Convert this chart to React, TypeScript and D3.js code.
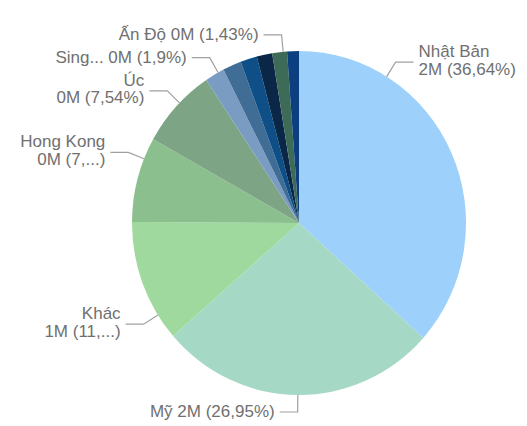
import React from "react";
import * as d3 from "d3";

// ---- data ----
const categories = [
  "Nhật Bản", "Mỹ", "Khác", "Hong Kong", "Úc", "Singapore",
  "Nước 7", "Nước 8", "Nước 9", "Ấn Độ", "Nước 11",
];
const shares = [36.64, 26.95, 11.5, 8.0, 7.54, 1.9, 1.8, 1.6, 1.5, 1.43, 1.14];
const valueLabels = ["2M", "2M", "1M", "0M", "0M", "0M", "0M", "0M", "0M", "0M", "0M"];
// label lines as shown (some truncated by the chart)
const labelLines: (string[] | null)[] = [
  ["Nhật Bản", "2M (36,64%)"],
  ["Mỹ 2M (26,95%)"],
  ["Khác", "1M (11,...)"],
  ["Hong Kong", "0M (7,...)"],
  ["Úc", "0M (7,54%)"],
  ["Sing... 0M (1,9%)"],
  null, null, null,
  ["Ấn Độ 0M (1,43%)"],
  null,
];

// ---- styles / layout ----
const colors = [
  "#9dd0fa", "#a5d8c5", "#a0d99e", "#8cbf8e", "#7da585", "#7b9cc2",
  "#3f6d96", "#0d4f86", "#0b2748", "#3d6b57", "#0b3f7f",
];
// where in each slice the leader line attaches (fraction of slice angle)
const anchorT = [0.24, 0.5, 0.21, 0.75, 0.56, 0.69, 0, 0, 0, 0.74, 0];

const W = 527, H = 426;
const cx = 299, cy = 223, rx = 167, ry = 172;
const elbowLen = 17, horizLen = 18, textGap = 5;
const fontSize = 17;
const lineGap = 17.5;

export default function App() {
  const data = categories.map((c, i) => ({ name: c, share: shares[i], value: valueLabels[i], i }));
  const pie = d3.pie<any>().value((d) => d.share).sort(null);
  const arcs = pie(data);
  const arc = d3.arc<any>().innerRadius(0).outerRadius(rx);

  const labels = arcs
    .filter((a) => labelLines[a.data.i])
    .map((a) => {
      const i = a.data.i;
      const ang = a.startAngle + anchorT[i] * (a.endAngle - a.startAngle);
      const sx = cx + rx * Math.sin(ang);
      const sy = cy - ry * Math.cos(ang);
      const ex = sx + elbowLen * Math.sin(ang);
      const ey = sy - elbowLen * Math.cos(ang);
      const right = Math.sin(ang) > 0.01;
      const hx = right ? ex + horizLen : ex - horizLen;
      const tx = right ? hx + textGap : hx - textGap;
      return { i, sx, sy, ex, ey, hx, tx, right, lines: labelLines[i] as string[] };
    });

  return (
    <svg
      width={W}
      height={H}
      style={{ position: "absolute", left: 0, top: 0, display: "block", background: "#fff" }}
    >
      <g transform={`translate(${cx},${cy}) scale(1,${ry / rx})`}>
        {arcs.map((a, k) => (
          <path key={k} d={arc(a) as string} fill={colors[a.data.i]} />
        ))}
      </g>
      {labels.map((l) => (
        <g key={l.i}>
          <polyline
            points={`${l.sx},${l.sy} ${l.ex},${l.ey} ${l.hx},${l.ey}`}
            fill="none"
            stroke="#a0a0a0"
            strokeWidth={1.2}
          />
          <text
            fontFamily="'Liberation Sans', Arial, sans-serif"
            fontSize={fontSize}
            fill="#707070"
            textAnchor={l.right ? "start" : "end"}
          >
            {l.lines.length === 1 ? (
              <tspan x={l.tx} y={l.ey + 5.5}>{l.lines[0]}</tspan>
            ) : (
              l.lines.map((s, j) => (
                <tspan key={j} x={l.tx} y={l.ey - 5 + j * lineGap}>{s}</tspan>
              ))
            )}
          </text>
        </g>
      ))}
    </svg>
  );
}
